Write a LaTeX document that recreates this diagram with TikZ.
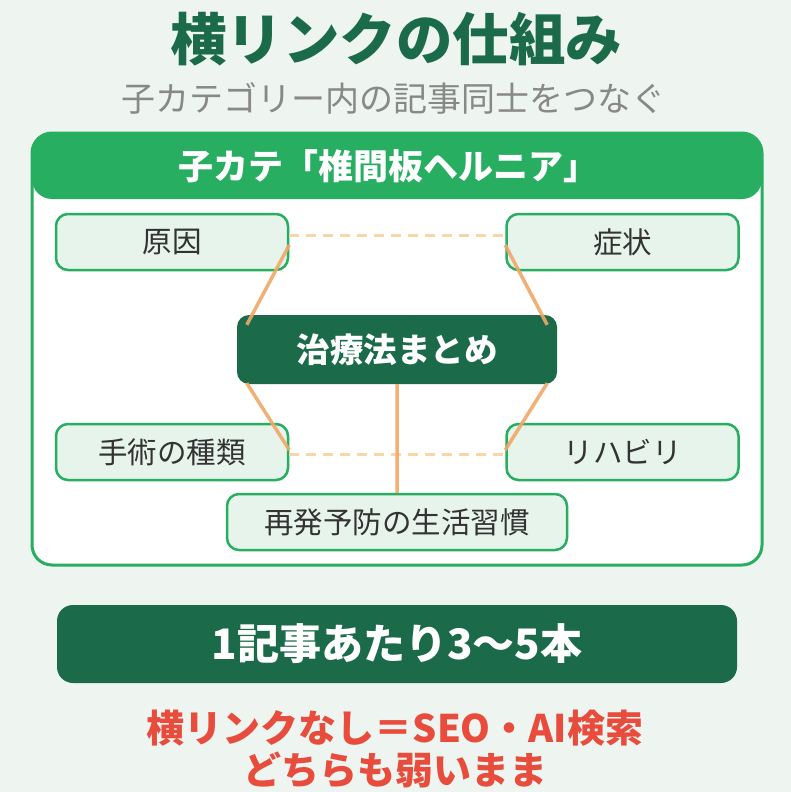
\documentclass[tikz,border=0pt]{standalone}
\usepackage{fontspec}
\setmainfont{Noto Sans CJK JP}
\usetikzlibrary{positioning}

\definecolor{bgmint}{HTML}{EEF5F0}
\definecolor{darkgreen}{HTML}{1B6B4A}
\definecolor{midgreen}{HTML}{27AE60}
\definecolor{palegreen}{HTML}{E7F4EC}
\definecolor{linkorange}{HTML}{F0A868}
\definecolor{paleorange}{HTML}{F9D5A7}
\definecolor{warnred}{HTML}{E74C3C}
\definecolor{subgray}{HTML}{888888}
\definecolor{textgray}{HTML}{333333}

\begin{document}
\begin{tikzpicture}[x=1pt,y=-1pt,node distance=154pt]

\tikzstyle{topic}=[draw=midgreen,line width=2.5pt,fill=palegreen,rounded corners=12pt,
  minimum width=232pt,minimum height=56pt,text=textgray,font=\fontsize{29.5}{32}\selectfont]
\tikzstyle{hub}=[fill=darkgreen,rounded corners=12pt,minimum width=320pt,minimum height=69pt,
  text=white,font=\fontsize{33.5}{36}\selectfont\bfseries]
\tikzstyle{crosslink}=[draw=paleorange,line width=3pt,dash pattern=on 10pt off 7pt]
\tikzstyle{hublink}=[draw=linkorange,line width=3.5pt,opacity=0.9]

%background
\fill[bgmint] (0,0) rectangle (791,792);
\useasboundingbox (0,0) rectangle (791,792);

%title
\node[text=darkgreen,font=\fontsize{56.5}{60}\selectfont\bfseries] (title) at (396,39) {横リンクの仕組み};
\node[text=subgray,font=\fontsize{34}{36}\selectfont] (subtitle) at (393,98) {子カテゴリー内の記事同士をつなぐ};

%category box
\draw[midgreen,line width=3pt,fill=white,rounded corners=20pt] (32,133) rectangle (762,565);
\fill[midgreen,rounded corners=20pt] (32,133) rectangle (762,199);
\node[text=white,font=\fontsize{35}{38}\selectfont\bfseries] (header) at (388,166) {子カテ「椎間板ヘルニア」};

%articles
\node[topic] (cause) at (172,242) {原因};
\node[topic] (symptom) [right=216pt of cause] {症状};
\node[topic] (surgery) [below of=cause,yshift=-56pt] {手術の種類};
\node[topic] (rehab) [below of=symptom,yshift=-56pt] {リハビリ};
\node[hub] (hub) at (397,349.5) {治療法まとめ};
\node[topic,minimum width=340pt] (prevent) at (397,522) {再発予防の生活習慣};

%links
\path[crosslink] ([yshift=7pt]cause.east) -- ([yshift=7pt]symptom.west)
                 ([yshift=-2pt]surgery.east) -- ([yshift=-2pt]rehab.west);
\path[hublink] ([shift={(10pt,-10pt)}]hub.north west) -- ([yshift=-3pt]cause.east)
               ([shift={(-10pt,-10pt)}]hub.north east) -- ([yshift=-3pt]symptom.west)
               ([shift={(10pt,1pt)}]hub.south west) -- ([yshift=2pt]surgery.east)
               ([shift={(-10pt,1pt)}]hub.south east) -- ([yshift=2pt]rehab.west)
               (hub.south) -- (prevent.north);

%summary
\node[fill=darkgreen,rounded corners=16pt,minimum width=680pt,minimum height=78pt,
  text=white,font=\fontsize{42}{45}\selectfont\bfseries] (rule) at (397,644) {1記事あたり3〜5本};
\node[text=warnred,font=\fontsize{38}{42}\selectfont\bfseries,align=center] (warning) at (395,749)
  {横リンクなし＝SEO・AI検索\\どちらも弱いまま};

\end{tikzpicture}
\end{document}
